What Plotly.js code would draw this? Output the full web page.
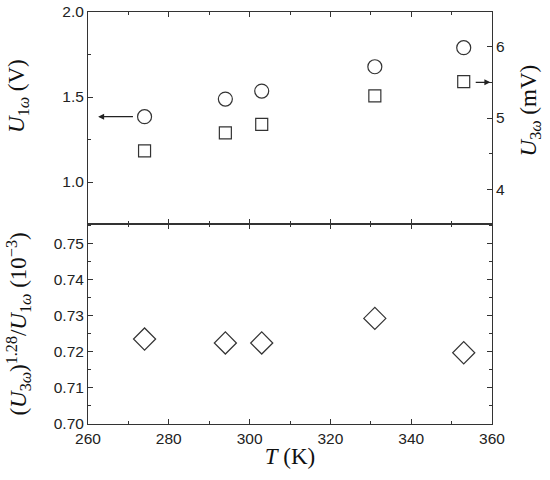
<!DOCTYPE html>
<html>
<head>
<meta charset="utf-8">
<script src="https://cdn.plot.ly/plotly-3.0.1.min.js"></script>
<style>body{margin:0;background:#fff}</style>
</head>
<body>
<div id="plot" style="width:550px;height:480px"></div>
<script>
// temperatures (K)
var temps = [274, 294, 303, 331, 353];
// first harmonic voltage (V), left axis of top panel
var u1 = [1.384, 1.488, 1.535, 1.678, 1.790];
// third harmonic voltage (mV), right axis of top panel
var u3 = [4.54, 4.79, 4.91, 5.31, 5.51];
// ratio (U3)^1.28/U1 (10^-3), bottom panel
var ratio = [0.7235, 0.7224, 0.7224, 0.7292, 0.7197];

var ink = "#333";
var serif = "Liberation Serif, Times New Roman, serif";
var sans = "Liberation Sans, Arial, sans-serif";

var base = {
  showline: true, linecolor: ink, linewidth: 1,
  ticks: "inside", ticklen: 5, tickcolor: ink,
  showgrid: false, zeroline: false,
  tickfont: {family: sans, size: 15.5, color: "#222"}
};
function ax(extra) { return Object.assign({}, base, extra); }

var traces = [
  {x: temps, y: ratio, xaxis: "x", yaxis: "y", mode: "markers", type: "scatter",
   marker: {symbol: "diamond-open", size: 17, color: ink, line: {width: 1.2}}},
  {x: temps, y: u1, xaxis: "x2", yaxis: "y2", mode: "markers", type: "scatter",
   marker: {symbol: "circle-open", size: 14, color: ink, line: {width: 1.2}}},
  {x: temps, y: u3, xaxis: "x2", yaxis: "y3", mode: "markers", type: "scatter",
   marker: {symbol: "square-open", size: 12, color: ink, line: {width: 1.2}}}
];

var split = 200 / 412;
var titleFont = {family: serif, size: 23, color: "#111"};

var layout = {
  width: 550, height: 480,
  margin: {l: 88, r: 58, t: 12, b: 56},
  showlegend: false,
  plot_bgcolor: "#fff", paper_bgcolor: "#fff",
  xaxis: ax({range: [260, 360], dtick: 20, anchor: "y", mirror: "ticks",
    minor: {dtick: 10, ticks: "inside", ticklen: 3, tickcolor: ink},
    title: {text: "<i>T</i> (K)", font: titleFont, standoff: 2}}),
  xaxis2: ax({range: [260, 360], dtick: 20, anchor: "y2", mirror: "ticks", matches: "x",
    showticklabels: false,
    minor: {dtick: 10, ticks: "inside", ticklen: 3, tickcolor: ink}}),
  yaxis: ax({domain: [0, split], range: [0.70, 0.7553], dtick: 0.01, tickformat: ".2f",
    anchor: "x", mirror: "ticks",
    minor: {dtick: 0.005, ticks: "inside", ticklen: 3, tickcolor: ink},
    title: {text: "(<i>U</i><sub>3<i>ω</i></sub>)<sup>1.28</sup>/<i>U</i><sub>1<i>ω</i></sub> (10<sup>−3</sup>)",
      font: {family: serif, size: 23, color: "#111"}, standoff: 20}}),
  yaxis2: ax({domain: [split, 1], range: [0.753, 2.0], dtick: 0.5, tickformat: ".1f",
    anchor: "x2",
    minor: {dtick: 0.25, ticks: "inside", ticklen: 3, tickcolor: ink}}),
  yaxis3: ax({overlaying: "y2", side: "right", anchor: "x2", range: [3.513, 6.487], dtick: 1,
    minor: {dtick: 0.5, ticks: "inside", ticklen: 3, tickcolor: ink}}),
  annotations: [
    // axis titles of the top panel, placed a little above the panel centre as in the original
    {xref: "paper", yref: "paper", x: -0.172, y: 0.795, xanchor: "center", yanchor: "middle",
     text: "<i>U</i><sub>1<i>ω</i></sub> (V)", textangle: -90, showarrow: false, font: titleFont},
    {xref: "paper", yref: "paper", x: 1.095, y: 0.762, xanchor: "center", yanchor: "middle",
     text: "<i>U</i><sub>3<i>ω</i></sub> (mV)", textangle: -90, showarrow: false, font: titleFont},
    {xref: "x2", yref: "y2", x: 262.5, y: u1[0], axref: "x2", ayref: "y2", ax: 271.5, ay: u1[0],
     showarrow: true, arrowhead: 2, arrowsize: 1, arrowwidth: 1.2, arrowcolor: "#222", text: ""},
    {xref: "x2", yref: "y3", x: 359.6, y: 5.5, axref: "x2", ayref: "y3", ax: 355.6, ay: 5.5,
     showarrow: true, arrowhead: 2, arrowsize: 1, arrowwidth: 1.2, arrowcolor: "#222", text: ""}
  ]
};

Plotly.newPlot("plot", traces, layout, {displayModeBar: false});
</script>
</body>
</html>
